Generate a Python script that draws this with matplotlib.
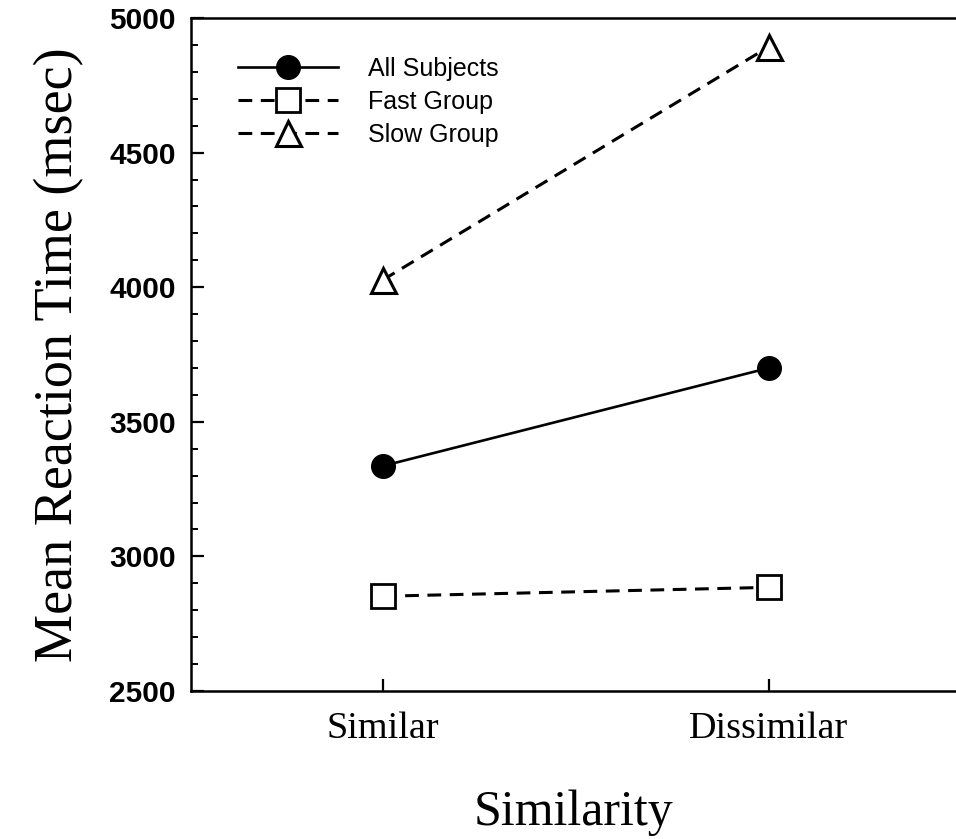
import numpy as np
import matplotlib
matplotlib.use("Agg")
import matplotlib.pyplot as plt
from matplotlib.ticker import MultipleLocator

# values
conditions = ["Similar", "Dissimilar"]
all_subjects = [3336, 3700]
fast_group = [2852, 2885]
slow_group = [4027, 4893]
series_labels = ["All Subjects", "Fast Group", "Slow Group"]

SERIF = "Liberation Serif"
SANS = "Liberation Sans"

fig = plt.figure(figsize=(9.56, 8.39), dpi=100)
ax = fig.add_axes([191 / 956, 1 - 691 / 839, 1 - 191 / 956, (691 - 18) / 839])

x = np.arange(len(conditions))
dash = (4.5, 2.8)
ax.plot(x, all_subjects, color="black", lw=1.9, marker="o", ms=17,
        mfc="black", mec="black", label=series_labels[0], zorder=3)
ax.plot(x, fast_group, color="black", lw=2.2, ls=(0, dash), marker="s", ms=17,
        mfc="white", mec="black", mew=2.0, label=series_labels[1], zorder=3)
ax.plot(x, slow_group, color="black", lw=2.2, ls=(0, dash), marker="^", ms=18,
        mfc="white", mec="black", mew=2.2, label=series_labels[2], zorder=3)

ax.set_xlim(-0.497, 1.485)
ax.set_ylim(2500, 5000)
ax.set_xticks(x)
ax.set_xticklabels(conditions, family=SERIF, fontsize=27.5)
ax.yaxis.set_major_locator(MultipleLocator(500))
ax.yaxis.set_minor_locator(MultipleLocator(100))
for lab in ax.get_yticklabels():
    lab.set_family(SANS); lab.set_fontweight("bold"); lab.set_fontsize(21.5)

ax.tick_params(axis="both", which="major", direction="in", length=9, width=1.6)
ax.tick_params(axis="y", which="minor", direction="in", length=5, width=1.4)
ax.tick_params(axis="y", which="major", pad=11)
ax.tick_params(axis="x", which="major", pad=15)

for side in ("left", "bottom", "top"):
    ax.spines[side].set_linewidth(1.8)
ax.spines["right"].set_visible(False)

ax.set_xlabel("Similarity", family=SERIF, fontsize=36, labelpad=31)
ax.set_ylabel("Mean Reaction Time (msec)", family=SERIF, fontsize=39, labelpad=18)

ax.legend(loc="upper left", bbox_to_anchor=(0.0614, 0.942), frameon=False,
          borderpad=0, borderaxespad=0, handlelength=4.0, handletextpad=1.2,
          labelspacing=0.35, prop={"family": SANS, "size": 18})

fig.savefig("out.png", dpi=100)
